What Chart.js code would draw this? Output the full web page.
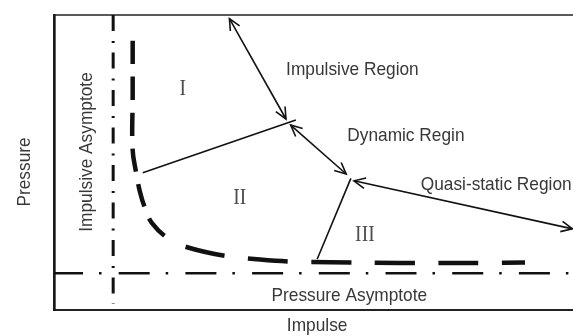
<!DOCTYPE html>
<html>
<head>
<meta charset="utf-8">
<script src="https://cdn.jsdelivr.net/npm/chart.js@4/dist/chart.umd.min.js"></script>
<style>
  html, body { margin: 0; padding: 0; background: #fff; }
  #wrap { width: 573px; height: 336px; position: relative; }
</style>
</head>
<body>
<div id="wrap"><canvas id="pi"></canvas></div>
<script>
// Pressure–impulse (P–I) diagram in normalised units (0–100 on both axes).

// Iso-damage curve
const curveImpulse  = [15.16, 15.16, 15.14, 15.80, 16.57, 17.53, 18.88, 22.16, 25.82, 33.14, 39.69, 45.47, 53.18, 66.67, 82.47, 90.75];
const curvePressure = [91.29, 72.88, 54.58, 46.78, 40.00, 34.58, 29.49, 24.07, 21.19, 18.31, 17.12, 16.44, 16.17, 15.93, 15.93, 16.10];

// Asymptotes
const impulseAsymptote = 11.4;          // minimum impulse
const impulseAsymptoteSpan = [100, 2];  // pressure range it is drawn over
const pressureAsymptote = 12.5;         // minimum pressure
const pressureAsymptoteSpan = [0, 100]; // impulse range it is drawn over

// Boundaries between regions I / II / III
const boundaryA_impulse  = [17.1, 46.6];
const boundaryA_pressure = [46.5, 64.4];
const boundaryB_impulse  = [50.7, 57.2];
const boundaryB_pressure = [17.2, 44.6];

// Double-headed pointers
const pointerImpulsive_impulse  = [33.8, 44.7];
const pointerImpulsive_pressure = [98.8, 64.75];
const pointerDynamic_impulse    = [45.6, 56.3];
const pointerDynamic_pressure   = [62.7, 46.1];
const pointerQuasi_impulse      = [57.8, 99.9];
const pointerQuasi_pressure     = [43.8, 27.5];

// Text
const regionNames        = ['Impulsive Region', 'Dynamic Regin', 'Quasi-static Region'];
const regionNameImpulse  = [57.5, 67.8, 85.2];
const regionNamePressure = [82.1, 59.7, 43.0];
const regionNumerals        = ['I', 'II', 'III'];
const regionNumeralImpulse  = [24.8, 35.8, 59.9];
const regionNumeralPressure = [75.5, 38.4, 26.0];
const asymptoteNames    = ['Impulsive Asymptote', 'Pressure Asymptote'];
const asymptoteNameAt   = [[6.07, 53.56], [56.9, 5.42]];
const axisTitles        = ['Impulse', 'Pressure'];
const xTitleAt = 50.7;   // impulse value under which the x title sits
const yTitleAt = 46.8;   // pressure value beside which the y title sits

const pts = (xs, ys) => xs.map((x, i) => ({ x, y: ys[i] }));

const INK = '#111';
const thin = { showLine: true, borderColor: INK, borderWidth: 1.6, pointRadius: 0, fill: false, tension: 0 };

const isSteep = ctx => Math.abs(ctx.p1.y - ctx.p0.y) > 0.7 * Math.abs(ctx.p1.x - ctx.p0.x);

const datasets = [
  { // impulse asymptote (vertical dash-dot)
    ...thin, borderWidth: 3, borderDash: [16, 10, 2, 9.5],
    data: impulseAsymptoteSpan.map(p => ({ x: impulseAsymptote, y: p }))
  },
  { // pressure asymptote (horizontal dash-dot)
    ...thin, borderWidth: 2.5, borderDash: [31, 16, 2.5, 17.2], borderDashOffset: 2,
    data: pressureAsymptoteSpan.map(i => ({ x: i, y: pressureAsymptote }))
  },
  { // iso-damage curve (heavy dashes)
    ...thin, borderWidth: 4.5, tension: 0.4,
    data: pts(curveImpulse, curvePressure),
    segment: {
      borderDash: ctx => isSteep(ctx) ? [23.3, 12.7] : [40, 23.5],
      borderDashOffset: ctx => isSteep(ctx) ? 0 : 45
    }
  },
  { ...thin, data: pts(boundaryA_impulse, boundaryA_pressure) },
  { ...thin, data: pts(boundaryB_impulse, boundaryB_pressure) },
  { ...thin, arrows: true, data: pts(pointerImpulsive_impulse, pointerImpulsive_pressure) },
  { ...thin, arrows: true, data: pts(pointerDynamic_impulse, pointerDynamic_pressure) },
  { ...thin, arrows: true, data: pts(pointerQuasi_impulse, pointerQuasi_pressure) }
];

// Open V arrowheads on both ends of pointer lines
const arrowHeads = {
  id: 'arrowHeads',
  afterDatasetsDraw(chart) {
    const ctx = chart.ctx;
    const head = (tip, from) => {
      const a = Math.atan2(tip.y - from.y, tip.x - from.x);
      const len = 12.5, spread = 25 * Math.PI / 180;
      ctx.beginPath();
      ctx.moveTo(tip.x - len * Math.cos(a - spread), tip.y - len * Math.sin(a - spread));
      ctx.lineTo(tip.x, tip.y);
      ctx.lineTo(tip.x - len * Math.cos(a + spread), tip.y - len * Math.sin(a + spread));
      ctx.stroke();
    };
    ctx.save();
    ctx.strokeStyle = INK;
    ctx.lineWidth = 1.6;
    ctx.lineJoin = 'miter';
    chart.data.datasets.forEach((ds, i) => {
      if (!ds.arrows) return;
      const pts = chart.getDatasetMeta(i).data;
      const a = pts[0], b = pts[pts.length - 1];
      head(a, b);
      head(b, a);
    });
    ctx.restore();
  }
};

// Top edge of the frame (left and bottom come from the axis borders)
const frameTop = {
  id: 'frameTop',
  beforeDatasetsDraw(chart) {
    const { ctx, chartArea: ca } = chart;
    ctx.save();
    ctx.strokeStyle = '#222';
    ctx.lineWidth = 1.5;
    ctx.beginPath();
    ctx.moveTo(ca.left, ca.top);
    ctx.lineTo(ca.right, ca.top);
    ctx.stroke();
    ctx.restore();
  }
};

// Labels, numerals and axis titles
const SANS = '19px "Liberation Sans", Arial, sans-serif';
const SERIF = '23px "Liberation Serif", "Times New Roman", serif';
function drawLabel(ctx, text, px, py, o) {
  ctx.save();
  ctx.translate(px, py);
  if (o.rotate) ctx.rotate(o.rotate);
  ctx.scale(o.squeeze, 1);
  ctx.font = o.font;
  ctx.fillStyle = o.color;
  ctx.textAlign = 'center';
  ctx.textBaseline = 'alphabetic';
  ctx.fillText(text, 0, o.cap / 2);
  ctx.restore();
}
const labels = {
  id: 'labels',
  afterDraw(chart) {
    const { ctx, chartArea: ca, scales: { x, y } } = chart;
    const sans = { font: SANS, color: '#383838', squeeze: 0.91, cap: 13.6 };
    const serif = { font: SERIF, color: '#4e4e4e', squeeze: 0.85, cap: 15.2 };
    regionNames.forEach((t, i) =>
      drawLabel(ctx, t, x.getPixelForValue(regionNameImpulse[i]), y.getPixelForValue(regionNamePressure[i]), sans));
    regionNumerals.forEach((t, i) =>
      drawLabel(ctx, t, x.getPixelForValue(regionNumeralImpulse[i]), y.getPixelForValue(regionNumeralPressure[i]), serif));
    drawLabel(ctx, asymptoteNames[0], x.getPixelForValue(asymptoteNameAt[0][0]), y.getPixelForValue(asymptoteNameAt[0][1]),
      { ...sans, rotate: -Math.PI / 2 });
    drawLabel(ctx, asymptoteNames[1], x.getPixelForValue(asymptoteNameAt[1][0]), y.getPixelForValue(asymptoteNameAt[1][1]), sans);
    drawLabel(ctx, axisTitles[0], x.getPixelForValue(xTitleAt), ca.bottom + 14.5, sans);
    drawLabel(ctx, axisTitles[1], ca.left - 30.5, y.getPixelForValue(yTitleAt), { ...sans, rotate: -Math.PI / 2 });
  }
};

const hiddenAxis = (min, max, width, color) => ({
  type: 'linear', min, max, display: true,
  ticks: { display: false },
  grid: { display: false, drawTicks: false },
  border: { display: true, width, color },
  title: { display: false }
});

new Chart(document.getElementById('pi'), {
  type: 'scatter',
  data: { datasets },
  options: {
    responsive: true,
    maintainAspectRatio: false,
    animation: false,
    events: [],
    layout: { padding: { left: 54, top: 15, right: 0, bottom: 26 } },
    scales: {
      x: hiddenAxis(0, 100, 2, '#222'),
      y: hiddenAxis(0, 100, 2.7, '#1a1a1a')
    },
    plugins: { legend: { display: false }, tooltip: { enabled: false } },
    clip: false
  },
  plugins: [frameTop, arrowHeads, labels]
});
</script>
</body>
</html>
